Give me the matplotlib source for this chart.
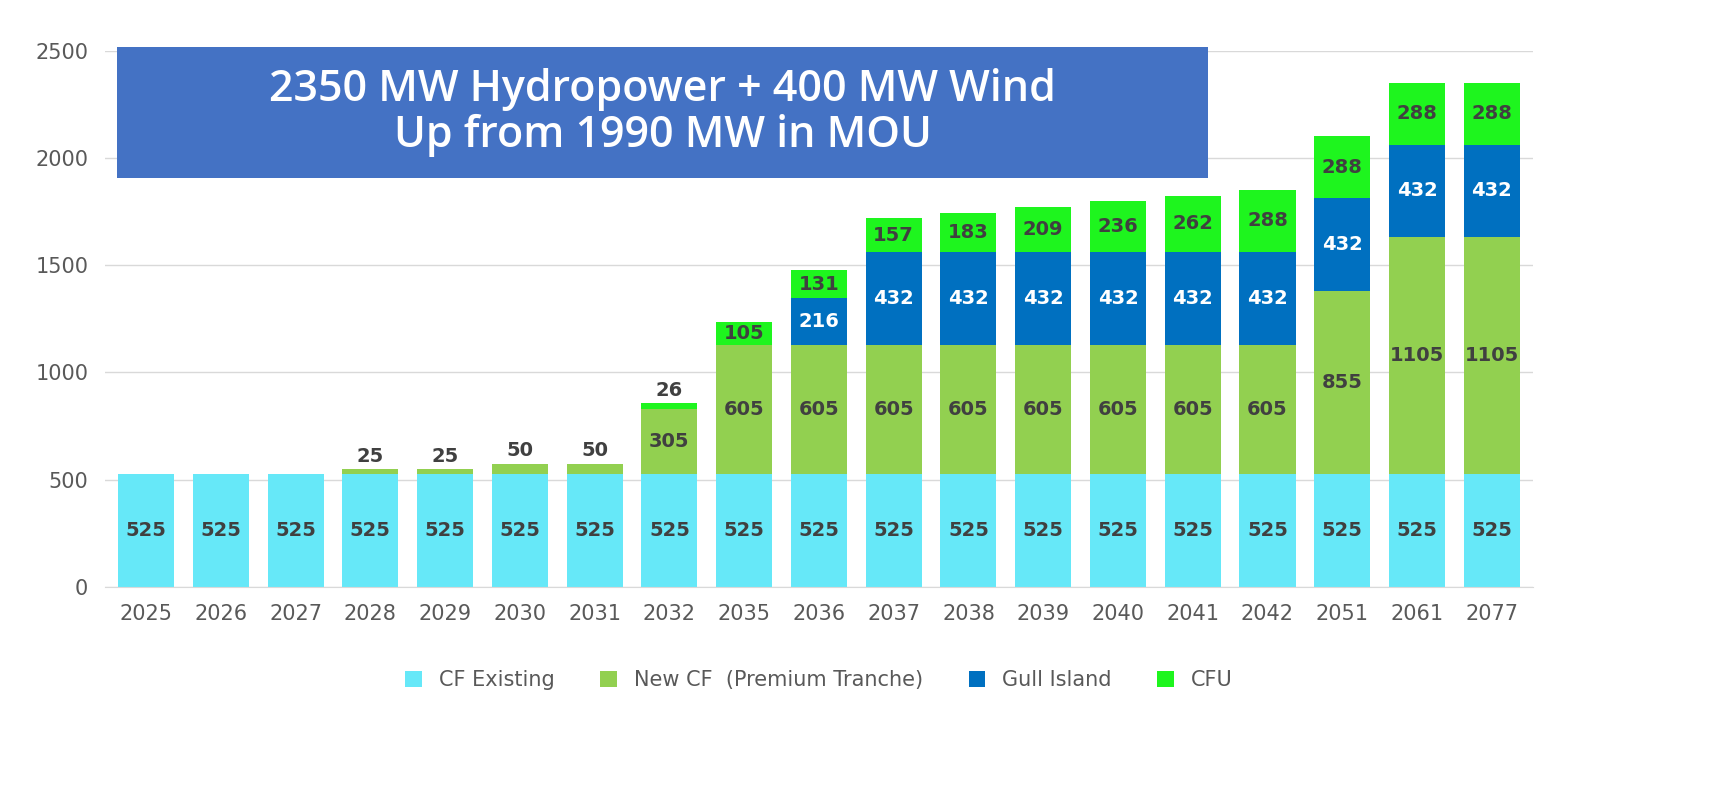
import numpy as np
import matplotlib.pyplot as plt
from matplotlib.patches import Rectangle

years = ["2025", "2026", "2027", "2028", "2029", "2030", "2031", "2032", "2035", "2036",
         "2037", "2038", "2039", "2040", "2041", "2042", "2051", "2061", "2077"]
cf_existing = [525] * 19
new_cf = [0, 0, 0, 25, 25, 50, 50, 305, 605, 605, 605, 605, 605, 605, 605, 605, 855, 1105, 1105]
gull = [0, 0, 0, 0, 0, 0, 0, 0, 0, 216, 432, 432, 432, 432, 432, 432, 432, 432, 432]
cfu = [0, 0, 0, 0, 0, 0, 0, 26, 105, 131, 157, 183, 209, 236, 262, 288, 288, 288, 288]

series = [("CF Existing", cf_existing, "#66E8F8", "#404040"),
          ("New CF  (Premium Tranche)", new_cf, "#92D050", "#404040"),
          ("Gull Island", gull, "#0070C0", "white"),
          ("CFU", cfu, "#1EF51E", "#404040")]

fig = plt.figure(figsize=(17.35, 7.97), dpi=100)
ax = fig.add_axes([0.0605, 0.2635, 0.823, 0.673])
x = np.arange(len(years))
bottom = np.zeros(len(years))
for name, vals, color, tcolor in series:
    vals = np.array(vals, dtype=float)
    ax.bar(x, vals, 0.75, bottom=bottom, color=color, label=name, zorder=2)
    for i, v in enumerate(vals):
        if v <= 0:
            continue
        if v < 60:
            top = bottom[i] + v
            ax.text(i, top + 60, f"{int(v)}", ha="center", va="center",
                    fontsize=14, fontweight="bold", color="#404040")
        else:
            ax.text(i, bottom[i] + v / 2, f"{int(v)}", ha="center", va="center",
                    fontsize=14, fontweight="bold", color=tcolor)
    bottom += vals

ax.set_ylim(0, 2500)
ax.set_xlim(-0.55, len(years) - 0.45)
ax.set_yticks(range(0, 2501, 500))
ax.set_xticks(x)
ax.set_xticklabels(years)
ax.tick_params(axis="both", labelsize=15, colors="#595959", length=0, pad=12)
ax.grid(axis="y", color="#D9D9D9", linewidth=1, zorder=0)
for s in ["top", "right", "left"]:
    ax.spines[s].set_visible(False)
ax.spines["bottom"].set_color("#D9D9D9")

ax.legend(loc="upper center", bbox_to_anchor=(0.5, -0.12), ncol=4, frameon=False,
          fontsize=15, labelcolor="#595959", handlelength=0.8, handleheight=0.8,
          columnspacing=2.2)

fig.patches.append(Rectangle((0.0674, 0.777), 0.629, 0.164, transform=fig.transFigure,
                             facecolor="#4472C4", edgecolor="none", zorder=5))
fig.text(0.382, 0.859, "2350 MW Hydropower + 400 MW Wind\nUp from 1990 MW in MOU",
         ha="center", va="center", fontsize=31, fontweight="semibold", family="Open Sans",
         color="white", linespacing=1.1, zorder=6)

fig.savefig("out.png", dpi=100)
